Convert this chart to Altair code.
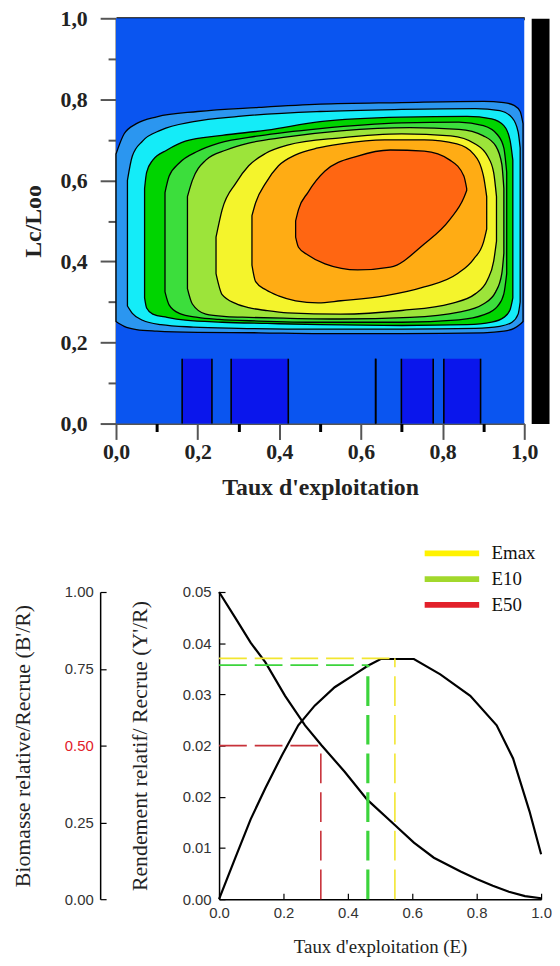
import altair as alt
import pandas as pd

# ---------------- TOP PANEL : contour bands (Lc/Loo vs E) ----------------
BG_COLOR = "#0A55F0"
BG_E0, BG_E1, BG_LC0, BG_LC1 = [0.0], [1.0], [0.0], [1.0]

LEVEL_NAMES = ["1", "2", "3", "4", "5", "6", "7", "8"]
LEVEL_COLORS = ["#2B96F0", "#14ECF8", "#00D400", "#3CDE3C", "#9CE43A", "#F4F42C", "#FFAC14", "#FF6612"]

LV1_E = [0.0, 0.02, 0.05, 0.1, 0.2, 0.35, 0.5, 0.7, 0.9, 0.95, 0.975, 0.99, 0.997]
LV1_HI = [0.665, 0.715, 0.74, 0.757, 0.77, 0.78, 0.788, 0.792, 0.795, 0.792, 0.785, 0.77, 0.74]
LV1_LO = [0.252, 0.24, 0.232, 0.228, 0.225, 0.224, 0.222, 0.222, 0.224, 0.228, 0.235, 0.245, 0.252]

LV2_E = [0.028, 0.04, 0.065, 0.11, 0.19, 0.3, 0.5, 0.7, 0.88, 0.94, 0.97, 0.985, 0.99]
LV2_HI = [0.60, 0.66, 0.697, 0.724, 0.745, 0.758, 0.77, 0.775, 0.777, 0.772, 0.755, 0.72, 0.68]
LV2_LO = [0.29, 0.272, 0.255, 0.244, 0.238, 0.235, 0.233, 0.233, 0.235, 0.24, 0.25, 0.27, 0.30]

LV3_E = [0.07, 0.075, 0.09, 0.125, 0.17, 0.26, 0.37, 0.5, 0.7, 0.86, 0.92, 0.95, 0.965, 0.972]
LV3_HI = [0.58, 0.62, 0.65, 0.675, 0.697, 0.711, 0.724, 0.745, 0.756, 0.758, 0.752, 0.735, 0.70, 0.65]
LV3_LO = [0.31, 0.285, 0.27, 0.262, 0.255, 0.25, 0.247, 0.244, 0.242, 0.244, 0.25, 0.262, 0.28, 0.31]

LV4_E = [0.12, 0.13, 0.155, 0.2, 0.252, 0.35, 0.5, 0.7, 0.84, 0.9, 0.935, 0.95, 0.957]
LV4_HI = [0.57, 0.61, 0.643, 0.672, 0.692, 0.71, 0.728, 0.742, 0.744, 0.735, 0.712, 0.68, 0.62]
LV4_LO = [0.325, 0.293, 0.272, 0.262, 0.257, 0.253, 0.25, 0.25, 0.256, 0.268, 0.29, 0.32, 0.37]

LV5_E = [0.175, 0.187, 0.22, 0.27, 0.325, 0.41, 0.55, 0.72, 0.84, 0.9, 0.93, 0.945, 0.95]
LV5_HI = [0.56, 0.60, 0.65, 0.675, 0.692, 0.706, 0.722, 0.73, 0.726, 0.71, 0.685, 0.64, 0.58]
LV5_LO = [0.333, 0.295, 0.27, 0.264, 0.262, 0.26, 0.258, 0.262, 0.275, 0.295, 0.325, 0.37, 0.42]

LV6_E = [0.245, 0.26, 0.294, 0.325, 0.367, 0.42, 0.55, 0.7, 0.82, 0.88, 0.91, 0.925, 0.932]
LV6_HI = [0.46, 0.528, 0.594, 0.636, 0.667, 0.687, 0.705, 0.715, 0.71, 0.69, 0.66, 0.62, 0.56]
LV6_LO = [0.37, 0.318, 0.296, 0.286, 0.279, 0.273, 0.27, 0.279, 0.296, 0.32, 0.355, 0.4, 0.45]

LV7_E = [0.333, 0.342, 0.367, 0.398, 0.44, 0.495, 0.551, 0.658, 0.755, 0.835, 0.876, 0.9, 0.908]
LV7_HI = [0.513, 0.545, 0.594, 0.636, 0.663, 0.68, 0.69, 0.70, 0.70, 0.69, 0.665, 0.611, 0.56]
LV7_LO = [0.391, 0.35, 0.33, 0.315, 0.303, 0.298, 0.303, 0.315, 0.337, 0.369, 0.406, 0.447, 0.48]

LV8_E = [0.44, 0.447, 0.47, 0.512, 0.592, 0.672, 0.755, 0.818, 0.852, 0.859]
LV8_HI = [0.50, 0.528, 0.57, 0.623, 0.66, 0.675, 0.672, 0.65, 0.611, 0.58]
LV8_LO = [0.46, 0.435, 0.416, 0.394, 0.379, 0.386, 0.443, 0.504, 0.557, 0.575]

# dark blue blocks at the bottom of the contour panel
BLOCK_E0 = [0.162, 0.282, 0.636, 0.699, 0.803]
BLOCK_E1 = [0.235, 0.422, 0.636, 0.777, 0.893]
BLOCK_LC0 = [0.0, 0.0, 0.0, 0.0, 0.0]
BLOCK_LC1 = [0.16, 0.16, 0.16, 0.16, 0.16]

TOP_MAJOR = [0.0, 0.2, 0.4, 0.6, 0.8, 1.0]
TOP_MINOR = [0.1, 0.3, 0.5, 0.7, 0.9]

# ---------------- BOTTOM PANEL : Y'/R and B'/R ----------------
BR_E = [0.0, 0.051, 0.098, 0.144, 0.205, 0.267, 0.318, 0.39, 0.46, 0.544, 0.605, 0.667, 0.75, 0.8, 0.85, 0.9, 0.95, 1.0]
BR_V = [1.0, 0.915, 0.835, 0.771, 0.662, 0.566, 0.501, 0.415, 0.324, 0.243, 0.184, 0.135, 0.09, 0.066, 0.044, 0.024, 0.01, 0.003]

YR_E = [0.0, 0.051, 0.098, 0.144, 0.195, 0.246, 0.297, 0.359, 0.421, 0.462, 0.502, 0.605, 0.687, 0.78, 0.862, 0.913, 0.964, 1.0]
YR_V = [0.0, 0.0068, 0.0130, 0.0181, 0.0234, 0.0283, 0.0315, 0.0345, 0.0366, 0.0380, 0.0391, 0.0391, 0.0366, 0.0331, 0.0283, 0.0229, 0.0143, 0.0073]

E_NAMES = ["Emax", "E10", "E50"]
E_X = [0.546, 0.462, 0.316]
E_Y = [0.0392, 0.0381, 0.025]
E_BASE = [0.0, 0.0, 0.0]
LINE_COLORS = ["#F2E630", "#3CD43C", "#C8323A"]
LEGEND_COLORS = ["#FFF200", "#A2D82C", "#E2202A"]

BR_TICKS = [0.0, 0.25, 0.5, 0.75, 1.0]
YR_TICKS = [0.0, 0.008333, 0.016667, 0.025, 0.033333, 0.041667, 0.05]
YR_LABELS = ["0.00", "0.01", "0.02", "0.02", "0.03", "0.04", "0.05"]
X_TICKS = [0.0, 0.2, 0.4, 0.6, 0.8, 1.0]

SERIF = "Liberation Serif"
SANS = "Liberation Sans"

# ---------------- build tables ----------------
levels = [
    (LV1_E, LV1_LO, LV1_HI), (LV2_E, LV2_LO, LV2_HI), (LV3_E, LV3_LO, LV3_HI),
    (LV4_E, LV4_LO, LV4_HI), (LV5_E, LV5_LO, LV5_HI), (LV6_E, LV6_LO, LV6_HI),
    (LV7_E, LV7_LO, LV7_HI), (LV8_E, LV8_LO, LV8_HI),
]
rows = []
for name, (es, los, his) in zip(LEVEL_NAMES, levels):
    for e, lo, hi in zip(es, los, his):
        rows.append({"lvl": name, "E": e, "lo": lo, "hi": hi})
bands = pd.DataFrame(rows)
bg = pd.DataFrame({"e0": BG_E0, "e1": BG_E1, "lc0": BG_LC0, "lc1": BG_LC1})
blocks = pd.DataFrame({"e0": BLOCK_E0, "e1": BLOCK_E1, "lc0": BLOCK_LC0, "lc1": BLOCK_LC1})
edge_rows = []
for a, b, c, d in zip(BLOCK_E0, BLOCK_E1, BLOCK_LC0, BLOCK_LC1):
    edge_rows.append({"edge": a, "lc0": c, "lc1": d})
    edge_rows.append({"edge": b, "lc0": c, "lc1": d})
edges_df = pd.DataFrame(edge_rows)

tx = alt.Scale(domain=[0, 1], nice=False, zero=False)
ty = alt.Scale(domain=[0, 1], nice=False, zero=False)
comma = "replace(format(datum.value, '.1f'), '.', ',')"

background = alt.Chart(bg).mark_rect(color=BG_COLOR).encode(
    x=alt.X("e0:Q", scale=tx, axis=None), x2="e1:Q",
    y=alt.Y("lc0:Q", scale=ty, axis=None), y2="lc1:Q",
)

areas = alt.Chart(bands).mark_area(
    stroke="black", strokeWidth=1.3, interpolate="monotone", opacity=1
).encode(
    x=alt.X("E:Q", scale=tx, axis=alt.Axis(
        orient="bottom", values=TOP_MAJOR, labelExpr=comma, tickSize=16, tickWidth=2,
        tickColor="#555", domainColor="#555", domainWidth=2, labelPadding=2,
        labelFont=SERIF, labelFontSize=22, labelFontWeight="bold", labelColor="#222",
        labelFlush=False, labelOverlap=False, grid=False,
        title="Taux d'exploitation", titleFont=SERIF, titleFontSize=24,
        titleFontWeight="bold", titleColor="#222", titlePadding=14)),
    y=alt.Y("lo:Q", scale=ty, axis=alt.Axis(
        orient="left", values=TOP_MAJOR, labelExpr=comma, tickSize=16, tickWidth=2,
        tickColor="#555", domainColor="#555", domainWidth=2, labelPadding=13,
        labelFont=SERIF, labelFontSize=22, labelFontWeight="bold", labelColor="#222",
        labelFlush=False, labelOverlap=False, grid=False,
        title="Lc/Loo", titleFont=SERIF, titleFontSize=24, titleFontWeight="bold",
        titleColor="#222", titlePadding=15)),
    y2="hi:Q",
    color=alt.Color("lvl:N", scale=alt.Scale(domain=LEVEL_NAMES, range=LEVEL_COLORS), legend=None),
)

rects = alt.Chart(blocks).mark_rect(color="#0A16EC").encode(
    x=alt.X("e0:Q", scale=tx, axis=alt.Axis(
        orient="bottom", values=TOP_MINOR, labels=False, domain=False, tickSize=8,
        tickWidth=3, tickColor="black", grid=False, title=None)),
    x2="e1:Q",
    y=alt.Y("lc0:Q", scale=ty, axis=alt.Axis(
        orient="left", values=TOP_MINOR, labels=False, domain=False, tickSize=8,
        tickWidth=2, tickColor="#555", grid=False, title=None)),
    y2="lc1:Q",
)

edges = alt.Chart(edges_df).mark_rule(color="black", strokeWidth=1.6).encode(
    x=alt.X("edge:Q", scale=tx, axis=alt.Axis(
        orient="top", labels=False, ticks=False, domainColor="black", domainWidth=3,
        grid=False, title=None)),
    y=alt.Y("lc0:Q", scale=ty, axis=alt.Axis(
        orient="right", offset=16, labels=False, ticks=False, domainColor="black",
        domainWidth=18, grid=False, title=None)),
    y2="lc1:Q",
)

top = alt.layer(background, areas, rects, edges).resolve_axis(
    x="independent", y="independent"
).properties(width=412, height=409)

# ---------------- bottom ----------------
br_df = pd.DataFrame({"E": BR_E, "BR": BR_V})
yr_df = pd.DataFrame({"E": YR_E, "YR": YR_V})
mk = pd.DataFrame({"name": E_NAMES, "E": E_X, "Y": E_Y, "base": E_BASE})

bx = alt.Scale(domain=[0, 1], range=[104, 429], nice=False, zero=False)
by_br = alt.Scale(domain=[0, 1], nice=False)
by_yr = alt.Scale(domain=[0, 0.05], nice=False)

expr = ""
for i in range(len(YR_TICKS) - 1):
    mid = (YR_TICKS[i] + YR_TICKS[i + 1]) / 2
    expr += f"datum.value < {mid:.6f} ? '{YR_LABELS[i]}' : "
expr += f"'{YR_LABELS[-1]}'"

br_axis = alt.Axis(
    orient="right", offset=-445, values=BR_TICKS, format=".2f", tickSize=6, tickColor="black",
    tickWidth=1.2, domainColor="black", domainWidth=1.5, labelAlign="right",
    labelBaseline="middle", labelPadding=-13, labelFont=SANS, labelFontSize=15,
    labelColor={"condition": {"test": "datum.value == 0.5", "value": "#E2202A"}, "value": "#333333"},
    labelFlush=False, labelOverlap=False, grid=False,
    title="Biomasse relative/Recrue (B'/R)", titleX=-78, titleY=155, titleAngle=270,
    titleAlign="center", titleBaseline="middle", titleFont=SERIF, titleFontSize=22,
    titleFontWeight="normal", titleColor="#222",
)
yr_axis = alt.Axis(
    orient="right", offset=-325, values=YR_TICKS, labelExpr=expr, tickSize=6, tickColor="black",
    tickWidth=1.2, domainColor="black", domainWidth=1.5, labelAlign="right",
    labelBaseline="middle", labelPadding=-14, labelFont=SANS, labelFontSize=15,
    labelColor="#333333", labelFlush=False, labelOverlap=False, grid=False,
    title="Rendement relatif/ Recrue (Y'/R)", titleX=-80, titleY=155, titleAngle=270,
    titleAlign="center", titleBaseline="middle", titleFont=SERIF, titleFontSize=22,
    titleFontWeight="normal", titleColor="#222",
)
x_axis_b = alt.Axis(
    orient="top", offset=-310, values=X_TICKS, format=".1f", tickSize=6, tickColor="black",
    tickWidth=1.2, domainColor="black", domainWidth=1.5, labelBaseline="top",
    labelAlign="center", labelPadding=-12, labelFont=SANS, labelFontSize=15,
    labelColor="#333333", labelFlush=False, labelOverlap=False, grid=False,
    title="Taux d'exploitation (E)", titleX=266.5, titleY=48, titleAngle=0,
    titleAlign="center", titleBaseline="middle", titleFont=SERIF, titleFontSize=19,
    titleFontWeight="normal", titleColor="#222",
)

br_line = alt.Chart(br_df).mark_line(color="black", strokeWidth=2.2).encode(
    x=alt.X("E:Q", scale=bx, axis=None),
    y=alt.Y("BR:Q", scale=by_br, axis=br_axis),
)
yr_line = alt.Chart(yr_df).mark_line(color="black", strokeWidth=2.2).encode(
    x=alt.X("E:Q", scale=bx, axis=x_axis_b),
    y=alt.Y("YR:Q", scale=by_yr, axis=yr_axis),
)

# line colours of the dashed guides: value conditions (no extra scale / legend)
stroke_cond = {
    "condition": [
        {"test": f"datum.name === '{n}'", "value": c}
        for n, c in zip(E_NAMES[:-1], LINE_COLORS[:-1])
    ],
    "value": LINE_COLORS[-1],
}
hrules = alt.Chart(mk).mark_rule(strokeDash=[28, 8], strokeWidth=1.6).encode(
    x=alt.X("base:Q", scale=bx, axis=None),
    x2="E:Q",
    y=alt.Y("Y:Q", scale=by_yr, axis=None),
    stroke=stroke_cond,
)
vrules = alt.Chart(mk).mark_rule(strokeDash=[30, 9]).encode(
    x=alt.X("E:Q", scale=bx, axis=None),
    y=alt.Y("base:Q", scale=by_yr, axis=None),
    y2="Y:Q",
    stroke=stroke_cond,
    strokeWidth=alt.condition("datum.name == 'E10'", alt.value(3.2), alt.value(1.6)),
)
legend_layer = alt.Chart(mk).mark_rule(opacity=0).encode(
    x=alt.X("E:Q", scale=bx, axis=None),
    x2="E:Q",
    y=alt.Y("Y:Q", scale=by_yr, axis=None),
    y2="Y:Q",
    color=alt.Color("name:N", scale=alt.Scale(domain=E_NAMES, range=LEGEND_COLORS),
                    legend=alt.Legend(
                        orient="none", legendX=325, legendY=-53, title=None,
                        symbolType="M-2.5,0H2.5", symbolSize=484, symbolStrokeWidth=6,
                        symbolOpacity=1, labelFont=SERIF, labelFontSize=19,
                        labelColor="#111", labelOffset=26, rowPadding=0, padding=0)),
)

bottom = alt.layer(br_line, yr_line, hrules, vrules, legend_layer).resolve_scale(
    y="independent"
).resolve_axis(x="independent", y="independent").properties(width=429, height=310)

chart = alt.vconcat(top, bottom, spacing=40).resolve_scale(
    color="independent"
).properties(
    padding={"left": 4, "top": -5, "right": 0, "bottom": 0}
).configure_view(strokeWidth=0).configure_axis(grid=False)

chart.save("out.html", embed_options={"renderer": "svg", "actions": False})
